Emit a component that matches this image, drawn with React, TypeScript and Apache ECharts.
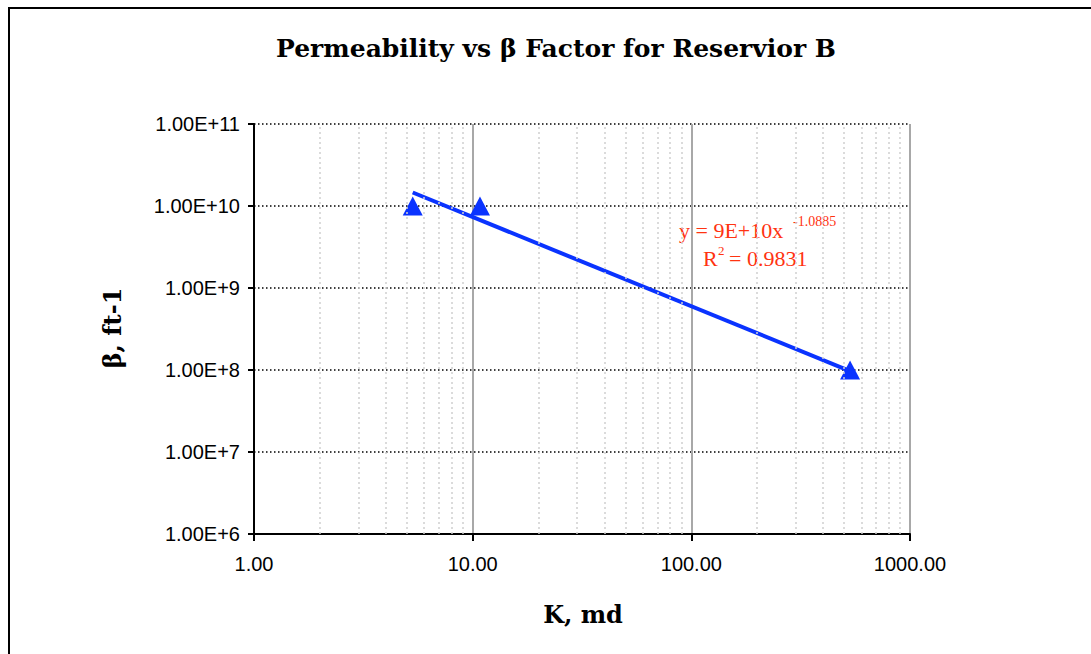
import React, { useEffect, useRef } from "react";
import * as echarts from "echarts";

// ---- data ----
const pointsK = [5.32, 10.8, 532];
const pointsBeta = [1.0e10, 1.0e10, 1.0e8];
// power-law trendline endpoints (straight on log-log axes)
const trendK = [5.32, 532];
const trendBeta = [1.46e10, 9.7e7];
// minor vertical gridline positions
const minorK = [2, 3, 4, 5, 6, 7, 8, 9, 20, 30, 40, 50, 60, 70, 80, 90, 200, 300, 400, 500, 600, 700, 800, 900];

const titleText = "Permeability vs β Factor for Reservior B";
const xName = "K, md";
const yName = "β, ft-1";
const eqMain = "y = 9E+10x";
const eqExp = "-1.0885";
const r2Label = "R";
const r2Sup = "2";
const r2Value = "= 0.9831";

const BLUE = "#0a33ff";
const RED = "#ff3311";

export default function App() {
  const ref = useRef<HTMLDivElement>(null);
  useEffect(() => {
    if (!ref.current) return;
    const chart = echarts.init(ref.current, null, { renderer: "svg" });
    const serifBold = { fontFamily: "DejaVu Serif", fontWeight: "bold" as const, fill: "#000" };
    const eqFont = { fontFamily: "Liberation Serif", fill: RED, align: "left" as const, verticalAlign: "middle" as const };
    chart.setOption({
      animation: false,
      backgroundColor: "#fff",
      grid: { left: 254, right: 181, top: 124, bottom: 120, containLabel: false },
      xAxis: {
        type: "log",
        logBase: 10,
        min: 1,
        max: 1000,
        axisLine: { show: true, lineStyle: { color: "#000", width: 2 } },
        axisTick: { show: true, length: 7, lineStyle: { color: "#000", width: 2 } },
        axisLabel: {
          show: true,
          showMinLabel: true,
          showMaxLabel: true,
          margin: 20,
          fontSize: 20,
          fontFamily: "Liberation Sans",
          color: "#000",
          formatter: (v: number) => v.toFixed(2),
        },
        splitLine: { show: true, lineStyle: { color: "#a8a8a8", width: 2, type: "solid" } },
      },
      yAxis: {
        type: "log",
        logBase: 10,
        min: 1e6,
        max: 1e11,
        splitNumber: 5,
        axisLine: { show: true, lineStyle: { color: "#000", width: 2 } },
        axisTick: { show: true, length: 6, lineStyle: { color: "#000", width: 2 } },
        axisLabel: {
          show: true,
          showMinLabel: true,
          showMaxLabel: true,
          margin: 14,
          fontSize: 20,
          fontFamily: "Liberation Sans",
          color: "#000",
          formatter: (v: number) => v.toExponential(2).toUpperCase(),
        },
        splitLine: { show: true, lineStyle: { color: "#000", width: 1.5, type: [1.5, 2.5] } },
      },
      series: [
        {
          name: "minor",
          type: "scatter",
          data: [],
          silent: true,
          z: 1,
          markLine: {
            silent: true,
            symbol: "none",
            animation: false,
            label: { show: false },
            lineStyle: { color: "#cfcfcf", width: 1.5, type: [2, 3] },
            data: minorK.map((v) => ({ xAxis: v })),
          },
        },
        {
          name: "trend",
          type: "line",
          data: trendK.map((k, i) => [k, trendBeta[i]]),
          showSymbol: false,
          symbol: "none",
          lineStyle: { color: BLUE, width: 4 },
          z: 3,
        },
        {
          name: "beta",
          type: "scatter",
          data: pointsK.map((k, i) => [k, pointsBeta[i]]),
          symbol: "triangle",
          symbolSize: [20, 19],
          itemStyle: { color: BLUE, opacity: 1 },
          z: 4,
        },
      ],
      graphic: [
        { type: "line", shape: { x1: 8, y1: 8, x2: 1091, y2: 8 }, style: { stroke: "#000", lineWidth: 2 } },
        { type: "line", shape: { x1: 9, y1: 8, x2: 9, y2: 654 }, style: { stroke: "#000", lineWidth: 2 } },
        {
          type: "text",
          x: 556,
          y: 48,
          style: { ...serifBold, text: titleText, fontSize: 25, align: "center", verticalAlign: "middle" },
        },
        {
          type: "text",
          x: 583,
          y: 614,
          style: { ...serifBold, text: xName, fontSize: 24, align: "center", verticalAlign: "middle" },
        },
        {
          type: "text",
          x: 112,
          y: 328,
          rotation: Math.PI / 2,
          style: { ...serifBold, text: yName, fontSize: 24, align: "center", verticalAlign: "middle" },
        },
        { type: "text", x: 679, y: 230, style: { ...eqFont, text: eqMain, fontSize: 22 } },
        { type: "text", x: 793, y: 221, style: { ...eqFont, text: eqExp, fontSize: 14 } },
        { type: "text", x: 703, y: 258, style: { ...eqFont, text: r2Label, fontSize: 22 } },
        { type: "text", x: 718, y: 250, style: { ...eqFont, text: r2Sup, fontSize: 13 } },
        { type: "text", x: 729, y: 258, style: { ...eqFont, text: r2Value, fontSize: 22 } },
      ],
    });
    return () => chart.dispose();
  }, []);
  return (
    <div
      ref={ref}
      style={{ position: "fixed", left: 0, top: 0, width: 1091, height: 654, background: "#fff" }}
    />
  );
}
